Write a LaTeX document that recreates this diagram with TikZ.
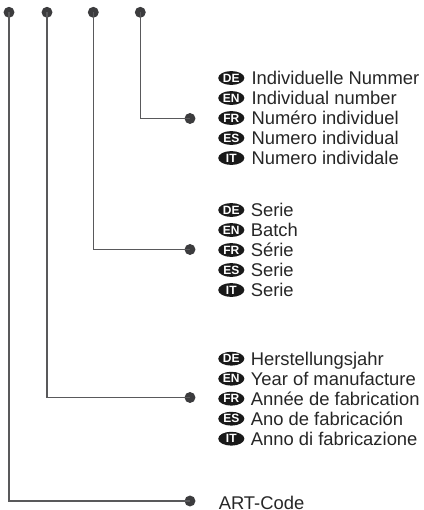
\documentclass[tikz,border=0pt]{standalone}
\usepackage{fontspec}
\setmainfont{Liberation Sans}
\usetikzlibrary{shapes.geometric}
\definecolor{ink}{HTML}{3C3C3E}
\tikzset{
 x=0.75pt,y=-0.75pt,
 dotn/.style={circle,fill=ink,draw=none,inner sep=0,minimum size=8.2pt},
 wire/.style={draw=ink!85,line width=1.1pt},
 badge/.style={ellipse,fill=black!90,draw=none,inner sep=0,minimum width=19.6pt,minimum height=10.4pt,text=white,font=\fontsize{9}{9}\selectfont\bfseries},
 lab/.style={anchor=west,inner sep=0,text height=9.8pt,text depth=0pt,text=black!85,font=\fontsize{13.8}{15}\selectfont},
}
\newcommand{\entry}[5]{%
 \node[badge] (b#1) at (231.3,#2) {#3};
 \node[lab] (t#1) at (#4,#2) {#5};
}
\begin{document}
\begin{tikzpicture}
\useasboundingbox (0,0) rectangle (424,510);
\node[dotn] (a1) at (9,12.3) {};
\node[dotn] (a2) at (47,12.3) {};
\node[dotn] (a3) at (93.3,12.3) {};
\node[dotn] (a4) at (140.3,12.3) {};
\node[dotn] (e1) at (190,118.5) {};
\node[dotn] (e2) at (190,249.5) {};
\node[dotn] (e3) at (190,397.5) {};
\node[dotn] (e4) at (190,501) {};
\draw[wire] (a4.center) |- (e1.center);
\draw[wire] (a3.center) |- (e2.center);
\draw[wire] (a2.center) |- (e3.center);
\draw[wire] (a1.center) |- (e4.center);
\entry{a1}{78}{DE}{251.3}{Individuelle Nummer}
\entry{a2}{98}{EN}{251.3}{Individual number}
\entry{a3}{118}{FR}{251.3}{Numéro individuel}
\entry{a4}{138}{ES}{251.3}{Numero individual}
\entry{a5}{158}{IT}{251.3}{Numero individale}
\entry{b1}{210}{DE}{250.5}{Serie}
\entry{b2}{230}{EN}{250.5}{Batch}
\entry{b3}{250}{FR}{250.5}{Série}
\entry{b4}{270}{ES}{250.5}{Serie}
\entry{b5}{290}{IT}{250.5}{Serie}
\entry{c1}{358.7}{DE}{250.5}{Herstellungsjahr}
\entry{c2}{378.7}{EN}{250.5}{Year of manufacture}
\entry{c3}{398.7}{FR}{250.5}{Année de fabrication}
\entry{c4}{418.7}{ES}{250.5}{Ano de fabricación}
\entry{c5}{438.7}{IT}{250.5}{Anno di fabricazione}
\node[lab] (art) at (218.5,502.6) {ART-Code};
\end{tikzpicture}
\end{document}
